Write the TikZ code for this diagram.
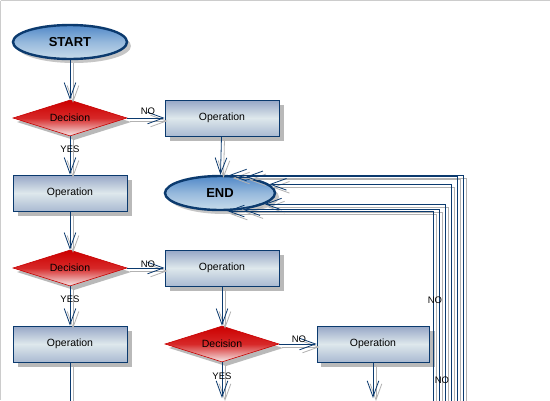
\documentclass[tikz,border=0pt]{standalone}
\usepackage{fontspec}
\setmainfont{Liberation Sans}
\usetikzlibrary{shapes.geometric,arrows.meta}
\definecolor{edge}{HTML}{0B3A6E}
\begin{document}
\begin{tikzpicture}[x=1pt,y=-1pt,
  base/.style={font=\fontsize{10.5}{12}\selectfont, inner sep=0pt},
  term/.style={base, ellipse, minimum width=114pt, minimum height=34pt, draw=edge, line width=2.4pt,
    top color={rgb,255:red,80;green,136;blue,200}, bottom color={rgb,255:red,200;green,220;blue,235},
    middle color={rgb,255:red,150;green,185;blue,220},
    font=\fontsize{13}{15}\selectfont\bfseries},
  op/.style={base, rectangle, minimum width=114pt, minimum height=36pt, draw=edge, line width=0.8pt,
    top color={rgb,255:red,150;green,166;blue,198}, bottom color={rgb,255:red,170;green,186;blue,210},
    middle color={rgb,255:red,222;green,232;blue,236}},
  dec/.style={base, diamond, aspect=3.2, minimum width=114pt, minimum height=36pt, draw={rgb,255:red,200;green,0;blue,0}, line width=0.6pt,
    top color={rgb,255:red,204;green,0;blue,0}, bottom color={rgb,255:red,245;green,235;blue,235},
    middle color={rgb,255:red,215;green,40;blue,40}},
  conn/.style={draw=edge, line width=0.8pt, -{Straight Barb[angle=40:17pt, line width=0.8pt]}},
  sconn/.style={draw=gray!60, line width=0.8pt, -{Straight Barb[angle=40:17pt, line width=0.8pt]}},
  lab/.style={font=\fontsize{9.5}{11}\selectfont, inner sep=0pt}
]
\useasboundingbox (0,0) rectangle (550,400);
\clip (0,0) rectangle (550,400);
\fill[white] (0,0) rectangle (550,400);
\draw[gray!40] (0.5,0.5) -- (549.5,0.5) (0.5,0.5) -- (0.5,400);
% shadows
\foreach \x/\y in {70/193,222/118,70/344,222/268,373/344}
  \fill[gray!55] (\x-57+5,\y-18+5) rectangle (\x+57+5,\y+18+5);
\fill[gray!45] (70+4,42+4) ellipse (57pt and 17pt);
\fill[gray!45] (220+4,193+4) ellipse (55pt and 17pt);
\foreach \x/\y in {70/118,70/268,222/344}
  \fill[gray!55] (\x+4-57,\y+4) -- (\x+4,\y+4-18) -- (\x+4+57,\y+4) -- (\x+4,\y+4+18) -- cycle;
% nodes
\node[term] (start) at (70,42) {START};
\node[term, minimum width=110pt] (end) at (220,193) {END};
\node[dec] (d1) at (70,118) {Decision};
\node[dec] (d2) at (70,268) {Decision};
\node[dec] (d3) at (222,344) {Decision};
\node[op] (op1) at (222,118) {Operation};
\node[op] (op2) at (70,193) {Operation};
\node[op] (op3) at (222,268) {Operation};
\node[op] (op4) at (70,344) {Operation};
\node[op, minimum width=112pt] (op5) at (373,344) {Operation};
\coordinate (b1) at (70,402);
\coordinate (b2) at (222,398);
\coordinate (b3) at (373,398);
\foreach \i/\xx in {1/433,2/439,3/445,4/451,5/457,6/463} \coordinate (v\i) at (\xx,402);
% connectors (shadow then main)
\foreach \s/\dx/\dy in {sconn/3pt/-3pt, conn/0pt/0pt}{
  \begin{scope}[transform canvas={shift={(\dx,\dy)}}]
  \draw[\s] (start) -- (d1);
  \draw[\s] (d1) -- (op1);
  \draw[\s] (d1) -- (op2);
  \draw[\s] (op1) -- (end);
  \draw[\s] (op2) -- (d2);
  \draw[\s] (d2) -- (op3);
  \draw[\s] (d2) -- (op4);
  \draw[\s] (op3) -- (d3);
  \draw[\s] (d3) -- (op5);
  \draw[\s] (d3) -- (b2);
  \draw[\s] (op5) -- (b3);
  \draw[\s,-] (op4) -- (b1);
  \draw[\s] (v6) |- (end.62);
  \draw[\s] (v5) |- (end.32);
  \draw[\s] (v4) |- (end.10);
  \draw[\s] (v3) |- (end.-14);
  \draw[\s] (v2) |- (end.-36);
  \draw[\s] (v1) |- (end.-68);
  \end{scope}}
% labels
\node[lab] (n1) at (148,111) {NO};
\node[lab] (y1) at (70,149) {YES};
\node[lab] (n2) at (148,264) {NO};
\node[lab] (y2) at (70,299) {YES};
\node[lab] (n3) at (299,339) {NO};
\node[lab] (y3) at (222,376) {YES};
\node[lab] (n4) at (435,300) {NO};
\node[lab] (n5) at (442,380) {NO};
\end{tikzpicture}
\end{document}
